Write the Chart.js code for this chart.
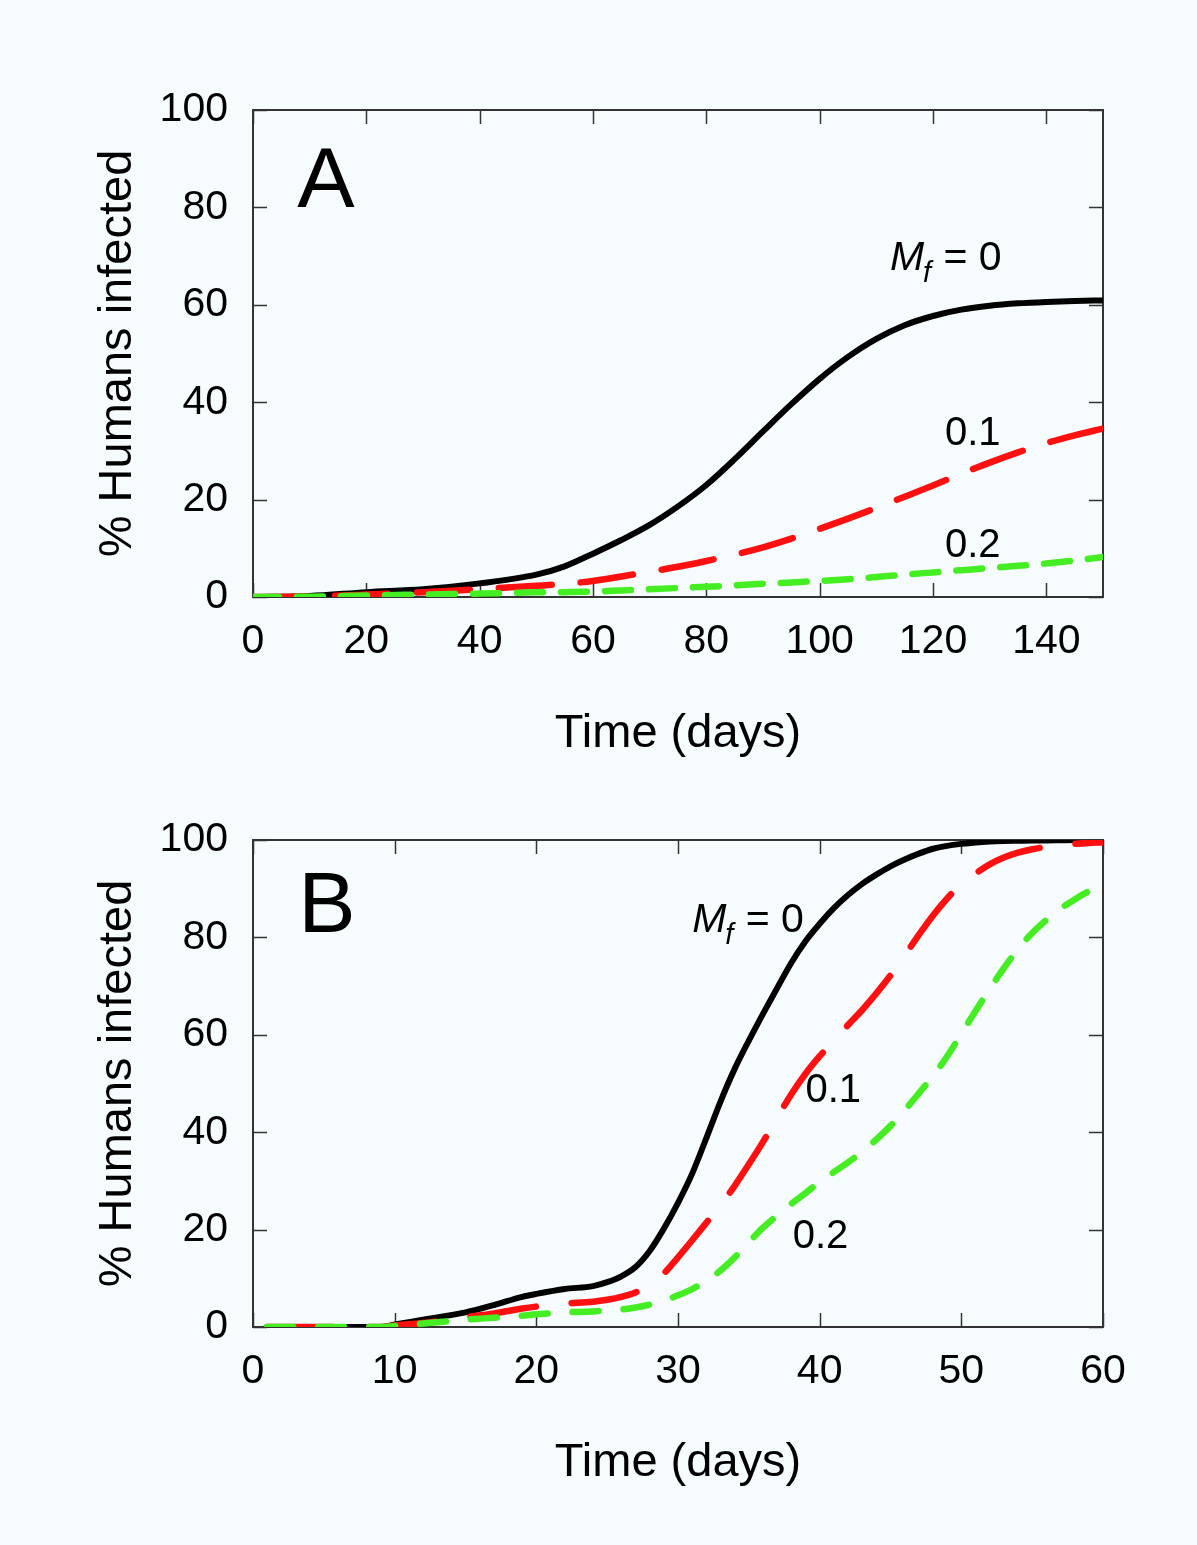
<!DOCTYPE html>
<html>
<head>
<meta charset="utf-8">
<script src="https://cdn.jsdelivr.net/npm/chart.js@4.4.1/dist/chart.umd.min.js"></script>
<style>
  html, body { margin: 0; padding: 0; background: #f6fcfd; }
  body { width: 1197px; height: 1545px; position: relative; overflow: hidden; }
  canvas { position: absolute; left: 0; }
  #chartA { top: 0; }
  #chartB { top: 770px; }
</style>
</head>
<body>
<canvas id="chartA" width="1197" height="770"></canvas>
<canvas id="chartB" width="1197" height="775"></canvas>
<script>
// ---- panel A data (time in days, % humans infected)
const daysA = [0, 10, 20, 30, 40, 50, 55, 60, 65, 70, 75, 80, 85, 90, 95, 100, 105, 110, 115, 120, 125, 130, 135, 140, 145, 150];
const mf0A  = [0, 0.2, 1.0, 1.6, 2.8, 4.6, 6.3, 8.9, 11.7, 14.8, 18.6, 23.0, 28.3, 34.0, 39.6, 44.8, 49.3, 53.0, 55.8, 57.7, 59.0, 59.8, 60.3, 60.6, 60.8, 60.9];
const mf01A = [0, 0.1, 0.5, 1.0, 1.6, 2.3, 2.7, 3.3, 4.2, 5.2, 6.2, 7.4, 8.7, 10.2, 12, 14, 16.1, 18.3, 20.6, 22.9, 25.3, 27.6, 29.7, 31.6, 33.2, 34.6];
const mf02A = [0, 0.05, 0.3, 0.5, 0.7, 0.95, 1.0, 1.1, 1.35, 1.6, 1.85, 2.1, 2.4, 2.7, 3.0, 3.3, 3.65, 4.1, 4.6, 5.05, 5.5, 5.95, 6.4, 6.9, 7.5, 8.2];
const xTicksA = [0, 20, 40, 60, 80, 100, 120, 140];

// ---- panel B data
const daysB = [1, 5, 9, 10, 12, 15, 17, 19, 20, 22, 24, 25, 26, 27, 28, 29, 30, 31, 32, 33, 34, 35, 36, 37, 38, 39, 40, 41, 42, 43, 44, 45, 46, 47, 48, 49, 50, 51, 52, 53, 54, 55, 56, 57, 58, 59, 60];
const mf0B  = [0, 0, 0, 0.5, 1.5, 3, 4.5, 6.2, 6.8, 7.8, 8.4, 9.2, 10.4, 12.3, 15.6, 20.2, 25.5, 31.5, 38.8, 46.3, 53, 58.8, 64.3, 69.6, 74.8, 79.2, 82.8, 86, 88.7, 91, 92.9, 94.6, 96, 97.2, 98.2, 98.8, 99.2, 99.5, 99.7, 99.8, 99.85, 99.9, 99.9, 99.95, 100, 100, 100];
const mf01B = [0, 0, 0, 0.3, 0.8, 2, 2.8, 3.8, 4.2, 4.8, 5.2, 5.6, 6.2, 7.1, 8.6, 11, 14.3, 17.8, 21.4, 25, 29, 33.4, 38, 43, 47.8, 52, 55.6, 58.8, 62, 65.1, 68.5, 72.2, 76.3, 80.5, 84.5, 88, 90.9, 93.1, 95, 96.4, 97.4, 98.1, 98.6, 98.9, 99.2, 99.4, 99.5];
const mf02B = [0, 0, 0, 0.2, 0.7, 1.5, 1.9, 2.3, 2.6, 3, 3.2, 3.4, 3.6, 4, 4.6, 5.4, 6.5, 7.8, 9.5, 11.6, 14.3, 17.4, 20.4, 22.9, 25.3, 27.5, 29.8, 31.8, 33.8, 36, 38.5, 41.3, 44.5, 48, 51.5, 55.6, 60.2, 64.9, 69.4, 73.7, 77.6, 80.9, 83.6, 85.9, 87.8, 89.5, 91];
const xTicksB = [0, 10, 20, 30, 40, 50, 60];

const yTicks = [0, 20, 40, 60, 80, 100];

const FONT = '"Liberation Sans", Arial, Helvetica, sans-serif';

function pts(days, vals) {
  return days.map((d, i) => ({ x: d, y: vals[i] }));
}

// frame around the plot + inward ticks on all four sides
const frameTicks = {
  id: 'frameTicks',
  beforeDatasetsDraw(chart) {
    const { ctx, chartArea: a, scales: { x, y } } = chart;
    const len = 14;
    ctx.save();
    ctx.strokeStyle = '#333';
    ctx.lineWidth = 2;
    ctx.strokeRect(a.left, a.top, a.right - a.left, a.bottom - a.top);
    ctx.lineWidth = 1.5;
    ctx.beginPath();
    x.ticks.forEach((t) => {
      const px = Math.round(x.getPixelForValue(t.value)) + 0.5;
      ctx.moveTo(px, a.bottom); ctx.lineTo(px, a.bottom - len);
      ctx.moveTo(px, a.top); ctx.lineTo(px, a.top + len);
    });
    y.ticks.forEach((t) => {
      const py = Math.round(y.getPixelForValue(t.value)) + 0.5;
      ctx.moveTo(a.left, py); ctx.lineTo(a.left + len, py);
      ctx.moveTo(a.right, py); ctx.lineTo(a.right - len, py);
    });
    ctx.stroke();
    ctx.restore();
  },
};

// panel letter and curve labels
const labels = {
  id: 'labels',
  afterDatasetsDraw(chart, args, opts) {
    const { ctx, scales: { x, y } } = chart;
    ctx.save();
    ctx.fillStyle = '#000';
    ctx.textBaseline = 'alphabetic';
    ctx.textAlign = 'left';
    ctx.font = '86px ' + FONT;
    ctx.fillText(opts.letter.text, x.getPixelForValue(opts.letter.x), y.getPixelForValue(opts.letter.y));

    // M_f = 0
    let px = x.getPixelForValue(opts.mf.x);
    const py = y.getPixelForValue(opts.mf.y);
    ctx.font = 'italic 41px ' + FONT;
    ctx.fillText('M', px, py);
    px += ctx.measureText('M').width;
    ctx.font = 'italic 29px ' + FONT;
    ctx.fillText('f', px - 1, py + 12);
    px += ctx.measureText('f').width;
    ctx.font = '41px ' + FONT;
    ctx.fillText(' = 0', px, py);

    ctx.font = '40px ' + FONT;
    opts.notes.forEach((n) => {
      ctx.fillText(n.text, x.getPixelForValue(n.x), y.getPixelForValue(n.y));
    });
    ctx.restore();
  },
};

function makePanel(id, cfg) {
  const line = (label, data, color, width, dash, order) => ({
    label, data, borderColor: color, borderWidth: width, borderDash: dash,
    borderCapStyle: 'round', borderJoinStyle: 'round',
    pointRadius: 0, fill: false, cubicInterpolationMode: 'monotone', order,
  });
  return new Chart(document.getElementById(id), {
    type: 'line',
    data: {
      datasets: [
        line('Mf = 0', pts(cfg.days, cfg.s0), '#000000', 6, [], 3),
        line('0.1', pts(cfg.days, cfg.s1), '#ff1010', 6.5, cfg.redDash, 2),
        line('0.2', pts(cfg.days, cfg.s2), '#44ee22', 6.5, cfg.greenDash, 1),
      ],
    },
    options: {
      responsive: false,
      animation: false,
      layout: { padding: { top: cfg.padTop, right: 94, left: 0, bottom: 0 } },
      plugins: {
        legend: { display: false },
        tooltip: { enabled: false },
        labels: cfg.labels,
      },
      scales: {
        x: {
          type: 'linear', min: 0, max: cfg.xMax,
          afterBuildTicks: (s) => { s.ticks = cfg.xTicks.map((v) => ({ value: v })); },
          ticks: { color: '#000', font: { family: FONT, size: 41 }, padding: 20, maxRotation: 0, autoSkip: false },
          grid: { display: false, drawTicks: false },
          border: { display: false },
          title: { display: true, text: 'Time (days)', color: '#000', font: { family: FONT, size: 47 }, padding: { top: 0, bottom: cfg.titlePad } },
          afterFit: (s) => { s.height = cfg.xHeight; },
        },
        y: {
          min: 0, max: 100,
          afterBuildTicks: (s) => { s.ticks = yTicks.map((v) => ({ value: v })); },
          ticks: { color: '#000', font: { family: FONT, size: 41 }, padding: 25 },
          grid: { display: false, drawTicks: false },
          border: { display: false },
          title: { display: true, text: '% Humans infected', color: '#000', font: { family: FONT, size: 47 }, padding: { top: 90, bottom: 0 } },
          afterFit: (s) => { s.width = 253; },
        },
      },
    },
    plugins: [frameTicks, labels],
  });
}

makePanel('chartA', {
  days: daysA, s0: mf0A, s1: mf01A, s2: mf02A,
  xMax: 150, xTicks: xTicksA,
  padTop: 110, xHeight: 173, titlePad: 8,
  redDash: [53, 29], greenDash: [26, 18],
  labels: {
    letter: { text: 'A', x: 7.8, y: 80.1 },
    mf: { x: 112.4, y: 67.1 },
    notes: [
      { text: '0.1', x: 122.1, y: 31.2 },
      { text: '0.2', x: 122.1, y: 8.2 },
    ],
  },
});

makePanel('chartB', {
  days: daysB, s0: mf0B, s1: mf01B, s2: mf02B,
  xMax: 60, xTicks: xTicksB,
  padTop: 70, xHeight: 218, titlePad: 54,
  redDash: [66, 36], greenDash: [26, 25],
  labels: {
    letter: { text: 'B', x: 3.2, y: 81.1 },
    mf: { x: 31.0, y: 81.1 },
    notes: [
      { text: '0.1', x: 39.0, y: 46.2 },
      { text: '0.2', x: 38.1, y: 16.2 },
    ],
  },
});
</script>
</body>
</html>
